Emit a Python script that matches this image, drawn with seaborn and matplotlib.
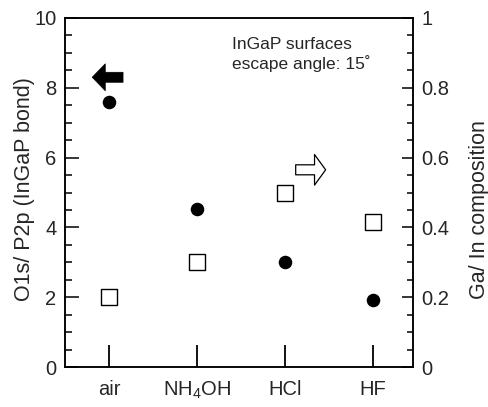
import numpy as np
import pandas as pd
import matplotlib
matplotlib.use("Agg")
import matplotlib.pyplot as plt
from matplotlib.ticker import MultipleLocator
import seaborn as sns

categories = ["air", "NH$_\\mathregular{4}$OH", "HCl", "HF"]
o1s_p2p = [7.6, 4.52, 3.0, 1.93]          # left axis, filled circles
ga_in = [0.20, 0.30, 0.50, 0.415]         # right axis, open squares

sns.set_theme(style="white")
plt.rcParams["font.family"] = ["Liberation Sans", "DejaVu Sans"]
plt.rcParams["mathtext.fontset"] = "custom"
plt.rcParams["mathtext.rm"] = "Liberation Sans"

df = pd.DataFrame({"pos": np.arange(len(categories)), "o1s": o1s_p2p, "gain": ga_in})

fig = plt.figure(figsize=(4.88, 4.07), dpi=100)
ax = fig.add_axes([0.133, 0.098, 0.713, 0.858])
ax2 = ax.twinx()

sns.scatterplot(data=df, x="pos", y="o1s", ax=ax, color="black", marker="o",
                s=95, edgecolor="black", linewidth=0, zorder=3)
sns.scatterplot(data=df, x="pos", y="gain", ax=ax2, facecolor="white", marker="s",
                s=135, edgecolor="black", linewidth=1.0, zorder=3)

ax.set_xlim(-0.5, 3.45)
ax.set_ylim(0, 10)
ax2.set_ylim(0, 1)

ax.set_xticks(df["pos"])
ax.set_xticklabels(categories, fontsize=14.5)
ax.set_xlabel("")
ax.set_ylabel("O1s/ P2p (InGaP bond)", fontsize=15.5)
ax2.set_ylabel("Ga/ In composition", fontsize=15.5)
ax.yaxis.set_label_coords(-0.085, 0.51)
ax2.yaxis.set_label_coords(1.16, 0.45)

ax.yaxis.set_major_locator(MultipleLocator(2))
ax.yaxis.set_minor_locator(MultipleLocator(0.5))
ax2.yaxis.set_minor_locator(MultipleLocator(0.05))
ax2.set_yticks([0, 0.2, 0.4, 0.6, 0.8, 1.0])
ax2.set_yticklabels(["0", "0.2", "0.4", "0.6", "0.8", "1"])

ax.tick_params(axis="y", which="major", direction="in", length=10, width=1.1,
               labelsize=14.5, left=True, right=False, pad=6, color="black")
ax.tick_params(axis="y", which="minor", direction="in", length=5, width=1.1,
               left=True, right=False, color="black")
ax.tick_params(axis="x", which="major", direction="in", length=16, width=1.3,
               bottom=True, top=False, pad=9, color="black")
ax2.tick_params(axis="y", which="major", direction="in", length=8, width=1.1,
                labelsize=14.5, right=True, left=False, pad=6, color="black")
ax2.tick_params(axis="y", which="minor", direction="in", length=4, width=1.1,
                right=True, left=False, color="black")
ax2.tick_params(axis="x", which="both", top=False, bottom=False)

for a in (ax, ax2):
    for sp in a.spines.values():
        sp.set_visible(True)
        sp.set_color("black")
        sp.set_linewidth(1.1)

ax.text(0.48, 0.945, "InGaP surfaces\nescape angle: 15˚", transform=ax.transAxes,
        fontsize=12.5, ha="left", va="top", linespacing=1.2)

# direction arrows
ax.annotate("", xy=(-0.19, 8.3), xytext=(0.16, 8.3),
            arrowprops=dict(arrowstyle="simple,head_length=0.47,head_width=0.97,tail_width=0.36",
                            mutation_scale=20, fc="black", ec="black", lw=0.5,
                            shrinkA=0, shrinkB=0))
ax.annotate("", xy=(2.46, 5.65), xytext=(2.12, 5.65),
            arrowprops=dict(arrowstyle="simple,head_length=0.4,head_width=1.1,tail_width=0.36",
                            mutation_scale=20, fc="white", ec="black", lw=0.9,
                            shrinkA=0, shrinkB=0))

fig.savefig("out.png", dpi=100)
